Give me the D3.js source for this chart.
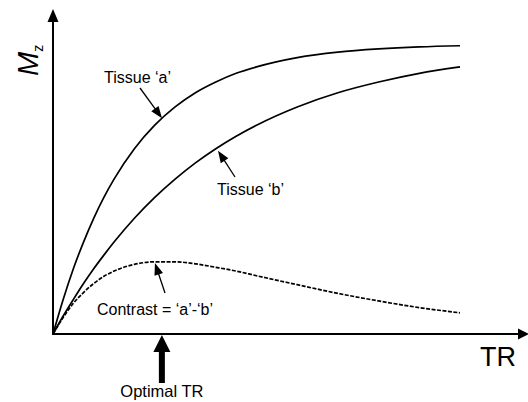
<!DOCTYPE html>
<html lang="en">
<head>
<title>Mz versus TR</title>
<script src="https://d3js.org/d3.v7.min.js"></script>
<style>
body { margin: 0; background: #fff; }
text { font-family: "Liberation Sans", Arial, sans-serif; fill: #000; }
</style>
</head>
<body>
<div id="chart"></div>
<script type="text/javascript">

var w = 528;
var h = 402;

// TR in ms, Mz as fraction of equilibrium magnetisation
var tr = [0, 100, 200, 300, 400, 500, 600, 800, 1000, 1200, 1400, 1600, 1800, 2000, 2400, 2800, 3200, 3600, 4000];
var mzA = [0, 0.119, 0.225, 0.317, 0.399, 0.471, 0.534, 0.639, 0.720, 0.783, 0.832, 0.869, 0.899, 0.921, 0.953, 0.972, 0.983, 0.990, 0.994];
var mzB = [0, 0.062, 0.119, 0.174, 0.225, 0.272, 0.317, 0.399, 0.471, 0.534, 0.590, 0.639, 0.682, 0.720, 0.783, 0.832, 0.869, 0.899, 0.921];
var mzC = [0, 0.057, 0.106, 0.143, 0.174, 0.199, 0.217, 0.240, 0.249, 0.249, 0.242, 0.230, 0.217, 0.201, 0.170, 0.140, 0.114, 0.091, 0.073];

// labels and the point on each curve their arrow touches
var labels = ["Tissue \u2018a\u2019", "Tissue \u2018b\u2019", "Contrast = \u2018a\u2019-\u2018b\u2019"];
var labelTR = [1071, 1622, 1002];
var labelMz = [0.744, 0.632, 0.245];
var optimalTR = 1070;

var xScale = d3.scaleLinear().domain([0, 4000]).range([53, 460]);
var yScale = d3.scaleLinear().domain([0, 1]).range([334, 44]);

var svg = d3.select("#chart").append("svg")
    .attr("width", w)
    .attr("height", h);

function zip(xs, ys) {
    return xs.map(function(x, i) { return {tr: x, mz: ys[i]}; });
}

function arrowHead(x1, y1, x2, y2, len, half) {
    // triangle, tip at (x2,y2), pointing away from (x1,y1)
    var dx = x2 - x1, dy = y2 - y1;
    var d = Math.sqrt(dx * dx + dy * dy);
    var ux = dx / d, uy = dy / d;
    var bx = x2 - ux * len, by = y2 - uy * len;
    return "M" + x2 + "," + y2 +
        "L" + (bx - uy * half) + "," + (by + ux * half) +
        "L" + (bx + uy * half) + "," + (by - ux * half) + "Z";
}

// axes
var x0 = xScale(0), y0 = yScale(0);
svg.append("line")
    .attr("x1", x0).attr("y1", y0 + 1)
    .attr("x2", x0).attr("y2", 20)
    .attr("stroke", "#000").attr("stroke-width", 2);
svg.append("path")
    .attr("d", arrowHead(x0, 100, x0, 9, 13, 5.5))
    .attr("fill", "#000");
svg.append("line")
    .attr("x1", x0 - 1).attr("y1", y0)
    .attr("x2", 518).attr("y2", y0)
    .attr("stroke", "#000").attr("stroke-width", 2);
svg.append("path")
    .attr("d", arrowHead(400, y0, 529, y0, 11, 5.5))
    .attr("fill", "#000");

// curves
var line = d3.line()
    .x(function(d) { return xScale(d.tr); })
    .y(function(d) { return yScale(d.mz); })
    .curve(d3.curveMonotoneX);

svg.append("path")
    .datum(zip(tr, mzA))
    .attr("d", line)
    .attr("fill", "none").attr("stroke", "#000").attr("stroke-width", 1.7);

svg.append("path")
    .datum(zip(tr, mzB))
    .attr("d", line)
    .attr("fill", "none").attr("stroke", "#000").attr("stroke-width", 1.7);

svg.append("path")
    .datum(zip(tr, mzC))
    .attr("d", line)
    .attr("fill", "none").attr("stroke", "#000").attr("stroke-width", 1.7)
    .attr("stroke-dasharray", "4,1.5");

// annotations
var labelPos = [
    {tx: 104, ty: 83, sx: 140, sy: 88},
    {tx: 217, ty: 195, sx: 235, sy: 177},
    {tx: 97, ty: 315, sx: 165, sy: 293}
];
labels.forEach(function(t, i) {
    var p = labelPos[i];
    var ex = xScale(labelTR[i]), ey = yScale(labelMz[i]);
    var d = Math.hypot(p.sx - ex, p.sy - ey);
    svg.append("text")
        .attr("x", p.tx).attr("y", p.ty)
        .style("font-size", "16px")
        .text(t);
    svg.append("line")
        .attr("x1", p.sx).attr("y1", p.sy)
        .attr("x2", ex + (p.sx - ex) * 10 / d)
        .attr("y2", ey + (p.sy - ey) * 10 / d)
        .attr("stroke", "#000").attr("stroke-width", 1.3);
    svg.append("path")
        .attr("d", arrowHead(p.sx, p.sy, ex, ey, 12, 4.5))
        .attr("fill", "#000");
});

// optimal TR arrow
var ox = xScale(optimalTR);
svg.append("line")
    .attr("x1", ox).attr("y1", 383)
    .attr("x2", ox).attr("y2", 350)
    .attr("stroke", "#000").attr("stroke-width", 6);
svg.append("path")
    .attr("d", arrowHead(ox, 383, ox, y0 + 1, 17, 8.5))
    .attr("fill", "#000");
svg.append("text")
    .attr("x", ox).attr("y", 397)
    .attr("text-anchor", "middle")
    .style("font-size", "16.5px")
    .text("Optimal TR");

// axis titles
svg.append("text")
    .attr("x", 480).attr("y", 366)
    .style("font-size", "27px")
    .text("TR");

var mz = svg.append("text")
    .attr("transform", "translate(38,76) rotate(-90)")
    .style("font-size", "29px");
mz.append("tspan").style("font-style", "italic").text("M");
mz.append("tspan").attr("dy", 5).style("font-size", "14px").text("z");

</script>
</body>
</html>
